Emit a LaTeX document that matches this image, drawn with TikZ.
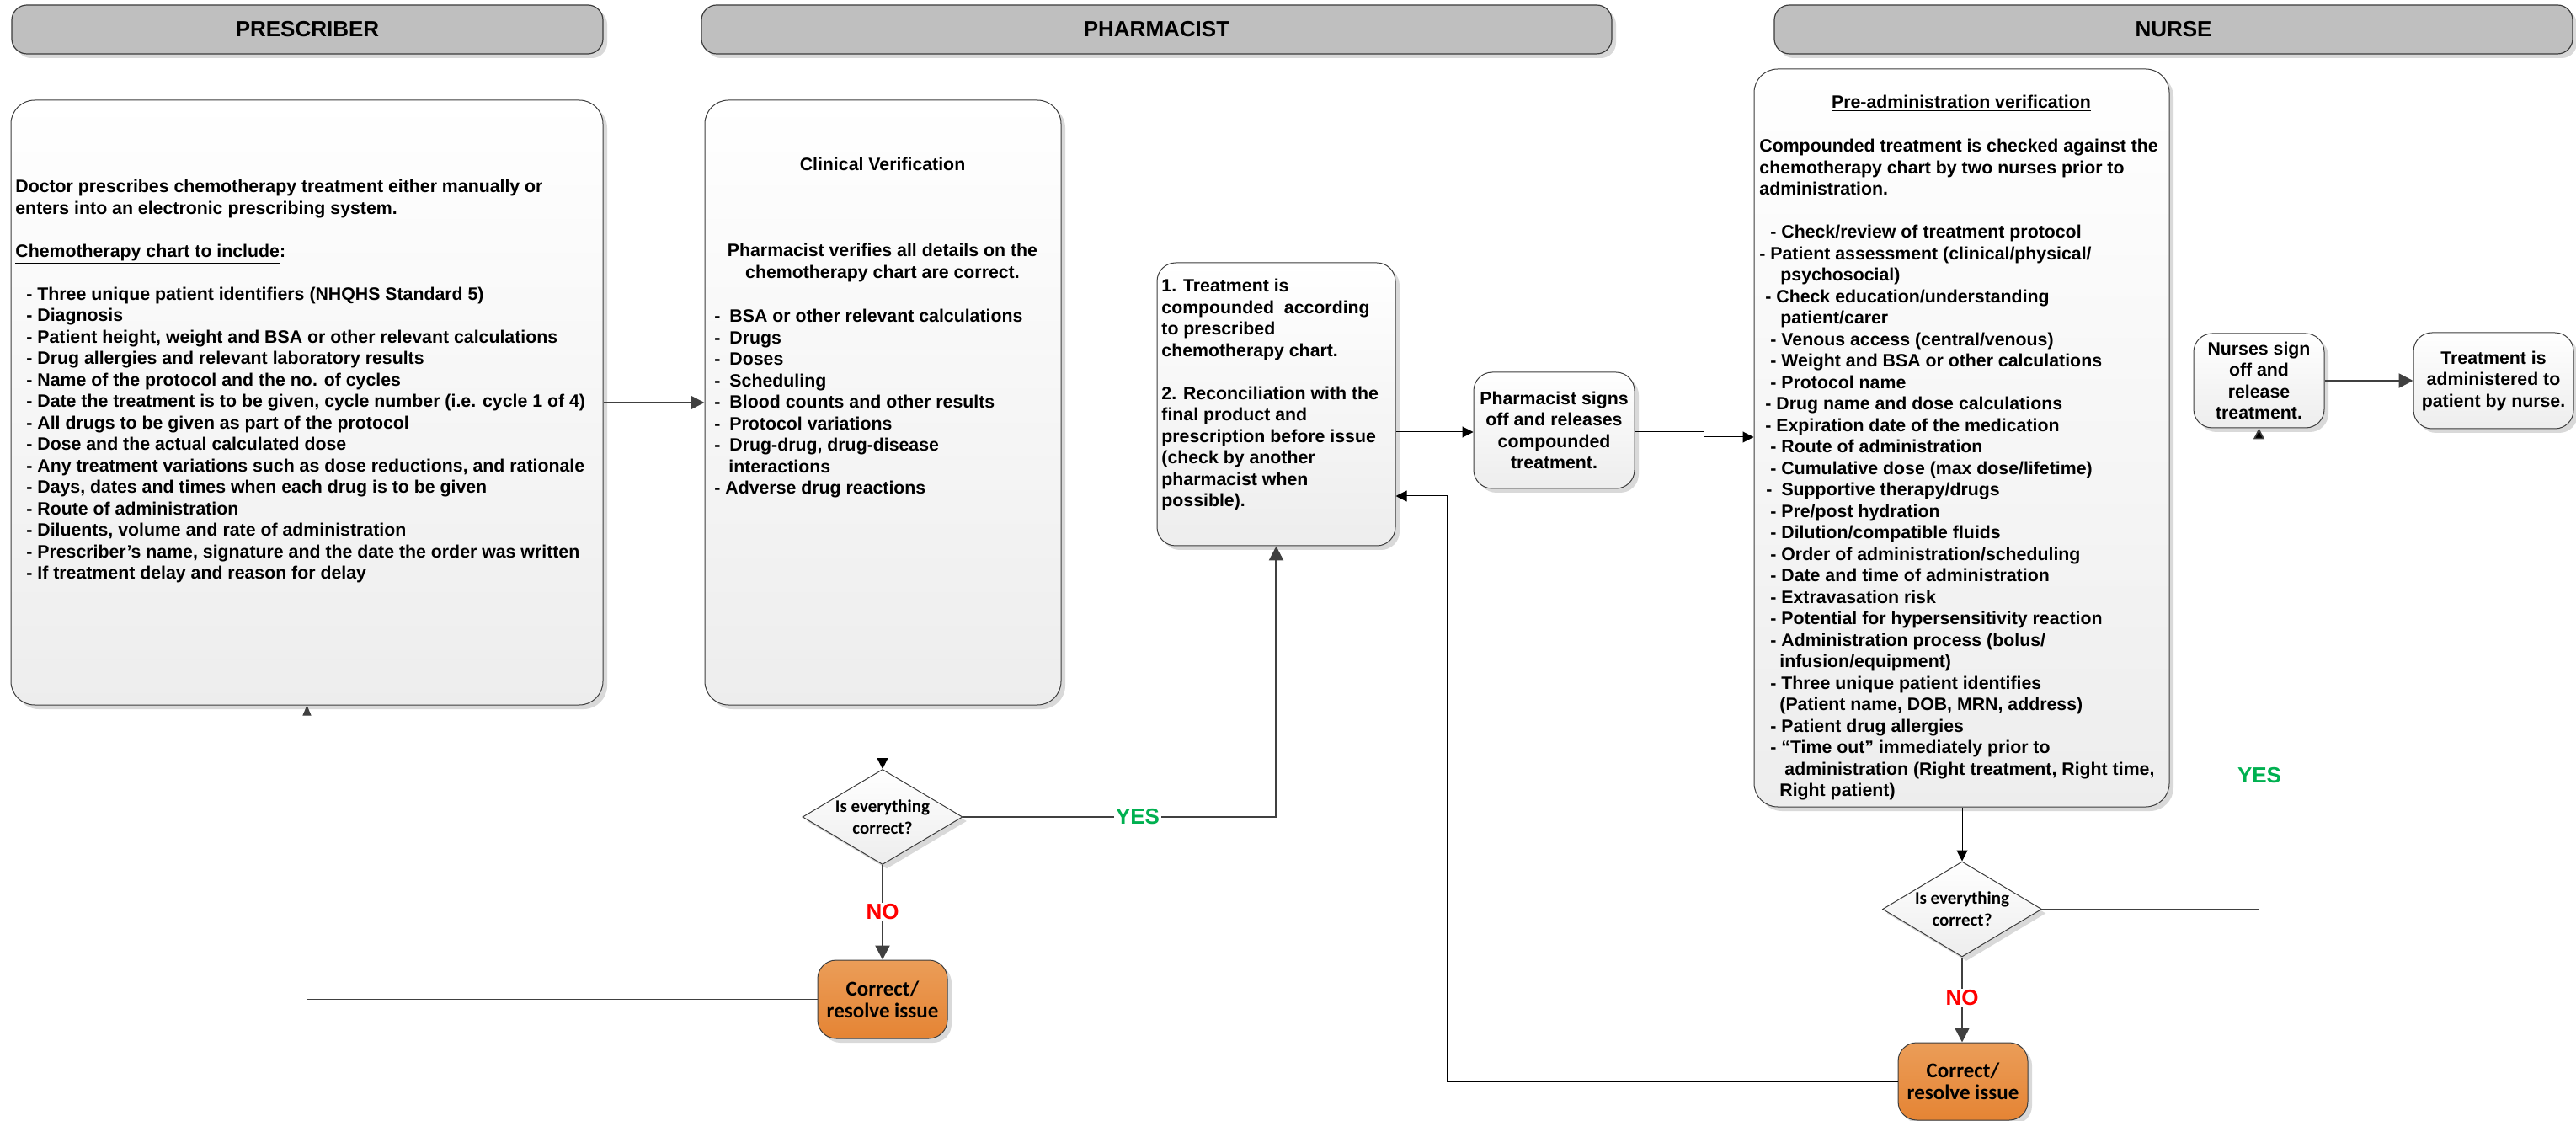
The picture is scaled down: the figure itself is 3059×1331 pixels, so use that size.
\documentclass[tikz,border=0pt]{standalone}
\usepackage{fontspec}
\setmainfont{Liberation Sans}
\newfontfamily\calib{Carlito}
\usetikzlibrary{shapes.geometric,arrows.meta,shadows,calc}

\definecolor{hdrgray}{RGB}{191,191,191}
\definecolor{edge}{RGB}{60,60,60}
\definecolor{orangeA}{RGB}{235,157,88}
\definecolor{orangeB}{RGB}{229,132,52}
\definecolor{yesgreen}{RGB}{0,176,80}
\definecolor{nored}{RGB}{255,0,0}
\definecolor{lnk}{RGB}{64,64,64}

\tikzset{
 shd/.style={drop shadow={shadow xshift=2.5pt,shadow yshift=-2.5pt,opacity=0.15,fill=black}},
 hdr/.style={draw=edge, line width=0.6pt, fill=hdrgray, rounded corners=9pt, inner sep=0pt,
   font=\fontsize{13pt}{15pt}\selectfont\bfseries, shd},
 pbox/.style={draw=edge, line width=0.5pt, top color=white, bottom color=black!7,
   rounded corners=14pt, inner sep=0pt, shd},
 sbox/.style={pbox, rounded corners=11pt, align=center,
   font=\fontsize{10.65pt}{12.75pt}\selectfont\bfseries},
 obox/.style={draw=edge, line width=0.5pt, top color=orangeA, bottom color=orangeB,
   rounded corners=11pt, inner sep=0pt, align=center,
   font=\calib\fontsize{12.5pt}{13pt}\selectfont\bfseries, shd},
 dia/.style={diamond, draw=edge, line width=0.5pt, top color=white, bottom color=black!7,
   inner sep=0pt, shd},
 diatxt/.style={inner sep=0pt, align=center, font=\calib\fontsize{10.5pt}{13pt}\selectfont\bfseries},
 txt/.style={inner sep=0pt, align=left, anchor=north west,
   font=\fontsize{10.65pt}{12.75pt}\selectfont\bfseries},
 ctxt/.style={inner sep=0pt, align=center, font=\fontsize{10.65pt}{12.75pt}\selectfont\bfseries},
 thinarr/.style={draw=black, line width=0.5pt, -{Triangle[length=6.5pt,width=6.5pt]}},
 grayarr/.style={draw=lnk, line width=0.5pt, -{Triangle[length=6pt,width=5pt]}},
 medarr/.style={draw=lnk, line width=0.9pt, -{Triangle[length=8pt,width=8pt]}},
 yesarr/.style={draw=lnk, line width=0.8pt, -{Triangle[length=6.5pt,width=6.5pt,fill=black]}},
 thickarr/.style={draw=lnk, line width=1.3pt, -{Triangle[length=8.5pt,width=8.5pt]}},
 yeslbl/.style={fill=white, inner sep=1pt, text=yesgreen, font=\fontsize{13pt}{15pt}\selectfont\bfseries},
 nolbl/.style={fill=white, inner sep=1pt, text=nored, font=\fontsize{13pt}{15pt}\selectfont\bfseries},
}

\begin{document}
\begin{tikzpicture}[x=0.5pt,y=-0.5pt]
\useasboundingbox (0,0) rectangle (3059,1331);

% headers
\node[hdr, minimum width=351pt, minimum height=29pt] (hpres) at (365,35) {PRESCRIBER};
\node[hdr, minimum width=540.5pt, minimum height=29pt] (hpharm) at (1373.5,35) {PHARMACIST};
\node[hdr, minimum width=474pt, minimum height=29pt] (hnurse) at (2581,35) {NURSE};

% main boxes
\node[pbox, minimum width=351.5pt, minimum height=359pt] (pres) at (364.5,478) {};
\node[pbox, minimum width=211.5pt, minimum height=359pt] (clin) at (1048.5,478) {};
\node[pbox, rounded corners=11pt, minimum width=141.5pt, minimum height=168pt] (comp) at (1515.5,480) {};
\node[sbox, minimum width=95.5pt, minimum height=69pt] (signs) at (1845.5,511)
  {Pharmacist signs\\off and releases\\compounded\\treatment.};
\node[pbox, minimum width=246.5pt, minimum height=438pt] (nurse) at (2329.5,520) {};
\node[sbox, minimum width=77.5pt, minimum height=56pt] (nsign) at (2682.5,452)
  {Nurses sign\\off and\\release\\treatment.};
\node[sbox, minimum width=95pt, minimum height=57pt] (treat) at (2961,452)
  {Treatment is\\administered to\\patient by nurse.};

% decisions and corrections
\node[dia, minimum width=95pt, minimum height=56.5pt] (cdia) at (1048,970) {};
\node[diatxt] (cdiat) at (cdia) {Is everything\\correct?};
\node[obox, minimum width=77pt, minimum height=46.5pt] (ccorr) at (1048,1186.5) {Correct/\\resolve issue};
\node[dia, minimum width=94.5pt, minimum height=56.5pt] (ndia) at (2330,1079.5) {};
\node[diatxt] (ndiat) at (ndia) {Is everything\\correct?};
\node[obox, minimum width=77pt, minimum height=46pt] (ncorr) at (2331,1284) {Correct/\\resolve issue};

% texts
\node[txt] (prest) at (18,213) {Doctor prescribes chemotherapy treatment either manually or\\
enters into an electronic prescribing system.\\[12.75pt]
\underline{Chemotherapy chart to include}:\\[12.75pt]
\hspace*{6.5pt}- Three unique patient identifiers (NHQHS Standard 5)\\
\hspace*{6.5pt}- Diagnosis\\
\hspace*{6.5pt}- Patient height, weight and BSA or other relevant calculations\\
\hspace*{6.5pt}- Drug allergies and relevant laboratory results\\
\hspace*{6.5pt}- Name of the protocol and the no. of cycles\\
\hspace*{6.5pt}- Date the treatment is to be given, cycle number (i.e. cycle 1 of 4)\\
\hspace*{6.5pt}- All drugs to be given as part of the protocol\\
\hspace*{6.5pt}- Dose and the actual calculated dose\\
\hspace*{6.5pt}- Any treatment variations such as dose reductions, and rationale\\
\hspace*{6.5pt}- Days, dates and times when each drug is to be given\\
\hspace*{6.5pt}- Route of administration\\
\hspace*{6.5pt}- Diluents, volume and rate of administration\\
\hspace*{6.5pt}- Prescriber’s name, signature and the date the order was written\\
\hspace*{6.5pt}- If treatment delay and reason for delay};

\node[ctxt] (clint) at (1048,197) {\underline{Clinical Verification}};
\node[ctxt] (clinp) at (1048,312) {Pharmacist verifies all details on the\\chemotherapy chart are correct.};
\node[txt] (clinl) at (848,367) {-\hspace*{5.5pt}BSA or other relevant calculations\\
-\hspace*{5.5pt}Drugs\\
-\hspace*{5.5pt}Doses\\
-\hspace*{5.5pt}Scheduling\\
-\hspace*{5.5pt}Blood counts and other results\\
-\hspace*{5.5pt}Protocol variations\\
-\hspace*{5.5pt}Drug-drug, drug-disease\\
\hspace*{8.5pt}interactions\\
- Adverse drug reactions};

\node[txt] (compt) at (1379,331) {1. Treatment is\\
compounded\ \ according\\
to prescribed\\
chemotherapy chart.\\[12.75pt]
2. Reconciliation with the\\
final product and\\
prescription before issue\\
(check by another\\
pharmacist when\\
possible).};

\node[ctxt] (nurset) at (2329,123) {\underline{Pre-administration verification}};
\node[txt] (nursel) at (2089,165) {Compounded treatment is checked against the\\
chemotherapy chart by two nurses prior to\\
administration.\\[12.75pt]
\hspace*{6.5pt}- Check/review of treatment protocol\\
- Patient assessment (clinical/physical/\\
\hspace*{12.5pt}psychosocial)\\
\hspace*{3.5pt}- Check education/understanding\\
\hspace*{12.5pt}patient/carer\\
\hspace*{6.5pt}- Venous access (central/venous)\\
\hspace*{6.5pt}- Weight and BSA or other calculations\\
\hspace*{6.5pt}- Protocol name\\
\hspace*{3.5pt}- Drug name and dose calculations\\
\hspace*{3.5pt}- Expiration date of the medication\\
\hspace*{6.5pt}- Route of administration\\
\hspace*{6.5pt}- Cumulative dose (max dose/lifetime)\\
\hspace*{4pt}-\hspace*{5.5pt}Supportive therapy/drugs\\
\hspace*{6.5pt}- Pre/post hydration\\
\hspace*{6.5pt}- Dilution/compatible fluids\\
\hspace*{6.5pt}- Order of administration/scheduling\\
\hspace*{6.5pt}- Date and time of administration\\
\hspace*{6.5pt}- Extravasation risk\\
\hspace*{6.5pt}- Potential for hypersensitivity reaction\\
\hspace*{6.5pt}- Administration process (bolus/\\
\hspace*{12pt}infusion/equipment)\\
\hspace*{6.5pt}- Three unique patient identifies\\
\hspace*{12pt}(Patient name, DOB, MRN, address)\\
\hspace*{6.5pt}- Patient drug allergies\\
\hspace*{6.5pt}- “Time out” immediately prior to\\
\hspace*{15pt}administration (Right treatment, Right time,\\
\hspace*{12pt}Right patient)};

% connectors
\coordinate (jog) at (2023,519);
\coordinate (loop) at (1718,589);
\draw[medarr] (pres.east) -- (clin.west);
\draw[thinarr] (cdia.north |- clin.south) -- (cdia.north);
\draw[thickarr] (cdia.south) -- (ccorr.north);
\draw[thickarr] (cdia.east) -| (comp.south);
\draw[grayarr] (ccorr.west) -| (pres.south);
\draw[thinarr] (comp.east |- 0,513) -- (signs.west |- 0,513);
\draw[thinarr] (signs.east |- 0,513) -| (jog) -- (jog -| nurse.west);
\draw[thinarr] (ndia.north |- nurse.south) -- (ndia.north);
\draw[thickarr] (ndia.south) -- (ndia.south |- ncorr.north);
\draw[yesarr] (ndia.east) -| (nsign.south);
\draw[thickarr] (nsign.east) -- (treat.west);
\draw[thinarr] (ncorr.west) -| (loop) -- (loop -| comp.east);

% labels
\node[yeslbl] (yes1) at (1351,970) {YES};
\node[nolbl] (no1) at (1048,1083) {NO};
\node[nolbl] (no2) at (2330,1185) {NO};
\node[yeslbl] (yes2) at (2683,921) {YES};
\end{tikzpicture}
\end{document}
